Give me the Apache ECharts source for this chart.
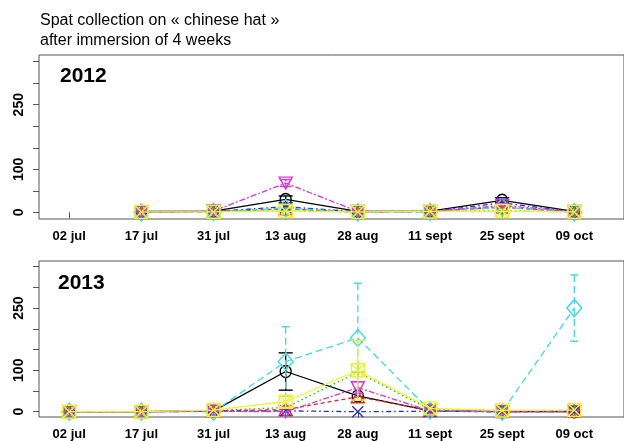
<!DOCTYPE html>
<html>
<head>
<meta charset="utf-8">
<script src="https://cdn.jsdelivr.net/npm/echarts@6/dist/echarts.min.js"></script>
<style>html,body{margin:0;padding:0;background:#fff}#c{width:624px;height:441px}</style>
</head>
<body>
<div id="c"></div>
<script>
// ---- data ----
const dates = ['02 jul', '17 jul', '31 jul', '13 aug', '28 aug', '11 sept', '25 sept', '09 oct'];
const yTicks = [0, 50, 100, 150, 200, 250, 300, 350];
const yLabels = [0, 100, 250];
const seriesNames = ['S1', 'S2', 'S3', 'S4', 'S5', 'S6', 'S7'];

// 2012 (no sampling on 02 jul)
const s1_2012 = [null, 2, 3, 30, 2, 3, 28, 2];
const s2_2012 = [null, 0, 2, 8, 0, 2, 12, 1];
const s3_2012 = [null, 2, 2, 3, 2, 2, 4, 1];
const s4_2012 = [null, 0, 2, 13, 1, 2, 22, 1];
const s5_2012 = [null, 0, 1, 10, 0, 1, 12, 0];
const s6_2012 = [null, 0, 3, 68, 2, 2, 16, 2];
const s7_2012 = [null, 1, 1, 3, 1, 2, 3, 1];
const e1_2012 = [null, 0, 0, 8, 0, 0, 6, 0];
const e6_2012 = [null, 0, 0, 8, 0, 0, 4, 0];

// 2013
const s1_2013 = [0, 0, 2, 97, 38, 2, 0, 0];
const s2_2013 = [0, 0, 2, 5, 36, 3, 0, 2];
const s3_2013 = [0, 0, 3, 10, 95, 5, 2, 3];
const s4_2013 = [0, 0, 1, 2, 0, 1, 0, 0];
const s5_2013 = [0, 0, 0, 121, 178, 3, 0, 250];
const s6_2013 = [0, 0, 1, 0, 58, 2, 0, 0];
const s7_2013 = [0, 0, 4, 24, 100, 8, 3, 4];
const e1_2013 = [0, 0, 0, 45, 0, 0, 0, 0];
const e5_2013 = [0, 0, 0, 84, 132, 0, 0, 80];
const e6_2013 = [0, 0, 0, 0, 14, 0, 0, 0];
const e7_2013 = [0, 0, 0, 14, 72, 0, 0, 0];

// ---- styles ----
const colors = ['#000000', '#E02828', '#22B822', '#2233CC', '#3ADCE2', '#D638D6', '#F4F030'];
const dashes = ['solid', [4, 3], [1.5, 3], [1.5, 3, 5, 3], [7, 4], [2, 2, 6, 2], 'solid'];
const symbols = [
  'path://M0,5A5,5,0,1,1,10,5A5,5,0,1,1,0,5Z',
  'path://M5,0L10,9L0,9Z',
  'path://M5,0L5,10M0,5L10,5',
  'path://M0,0L10,10M10,0L0,10',
  'path://M5,0L10,5L5,10L0,5Z',
  'path://M0,0L10,0L5,9Z',
  'path://M0,0L10,0L10,10L0,10ZM0,0L10,10M10,0L0,10'
];
const symSizes = [[11, 12], [13, 12], [12, 13], [11, 11], [15, 17], [13, 12], [13, 13]];
const capW = [14, 10, 10, 10, 8, 12, 14];

const data2012 = [s1_2012, s2_2012, s3_2012, s4_2012, s5_2012, s6_2012, s7_2012];
const data2013 = [s1_2013, s2_2013, s3_2013, s4_2013, s5_2013, s6_2013, s7_2013];
const err2012 = {0: e1_2012, 5: e6_2012};
const err2013 = {0: e1_2013, 4: e5_2013, 5: e6_2013, 6: e7_2013};

function pts(arr) { return arr.map((v, i) => [i + 1, v]); }

function xAxis(gi) {
  return {
    type: 'value', gridIndex: gi, min: 0.581, max: 8.689,
    splitLine: {show: false},
    axisLine: {show: false},
    axisTick: {show: true, length: 6, lineStyle: {color: '#555'}, customValues: [1, 2, 3, 4, 5, 6, 7, 8]},
    axisLabel: {
      customValues: [1, 2, 3, 4, 5, 6, 7, 8],
      formatter: v => dates[Math.round(v) - 1],
      fontFamily: 'Liberation Sans', fontWeight: 'bold', fontSize: 13, color: '#000', margin: 11
    }
  };
}
function yAxis(gi, mn, mx) {
  return {
    type: 'value', gridIndex: gi, min: mn, max: mx,
    splitLine: {show: false},
    axisLine: {show: false},
    axisTick: {show: true, length: 6, lineStyle: {color: '#555'}, customValues: yTicks},
    axisLabel: {
      customValues: yLabels, rotate: 90,
      fontFamily: 'Liberation Sans', fontWeight: 'bold', fontSize: 14, color: '#000', margin: 13
    }
  };
}

const series = [];
function addPanel(gi, data, errs) {
  data.forEach((arr, k) => {
    series.push({
      type: 'line', name: seriesNames[k], xAxisIndex: gi, yAxisIndex: gi,
      data: pts(arr), connectNulls: false, animation: false,
      symbol: symbols[k], symbolSize: symSizes[k],
      itemStyle: {color: 'rgba(0,0,0,0)', borderColor: colors[k], borderWidth: 1.4},
      lineStyle: {color: colors[k], width: 1.3, type: dashes[k]},
      z: 2 + k
    });
    if (errs[k]) {
      const ed = arr.map((v, i) => [i + 1, v, errs[k][i]]).filter(d => d[1] != null && d[2] > 0);
      series.push({
        type: 'custom', xAxisIndex: gi, yAxisIndex: gi, animation: false, z: 2 + k,
        data: ed,
        renderItem: (params, api) => {
          const x = api.value(0), y = api.value(1), e = api.value(2);
          const top = api.coord([x, y + e]);
          const bot = api.coord([x, y - e]);
          const w = capW[k] / 2;
          const st = {stroke: colors[k], lineWidth: 1.3, lineDash: dashes[k] === 'solid' ? null : dashes[k]};
          const st2 = {stroke: colors[k], lineWidth: 1.4};
          return {
            type: 'group', children: [
              {type: 'line', shape: {x1: top[0], y1: top[1], x2: bot[0], y2: bot[1]}, style: st},
              {type: 'line', shape: {x1: top[0] - w, y1: top[1], x2: top[0] + w, y2: top[1]}, style: st2},
              {type: 'line', shape: {x1: bot[0] - w, y1: bot[1], x2: bot[0] + w, y2: bot[1]}, style: st2}
            ]
          };
        }
      });
    }
  });
}
addPanel(0, data2012, err2012);
addPanel(1, data2013, err2013);

const chart = echarts.init(document.getElementById('c'), null, {renderer: 'canvas'});
chart.setOption({
  backgroundColor: '#fff',
  animation: false,
  title: {
    text: 'Spat collection on « chinese hat »\nafter immersion of 4 weeks',
    left: 40, top: 11, padding: 0,
    textStyle: {fontFamily: 'Liberation Sans', fontSize: 16, fontWeight: 'normal', color: '#000', lineHeight: 20}
  },
  graphic: [
    {type: 'text', left: 60, top: 66, style: {text: '2012', font: 'bold 21px "Liberation Sans"', fill: '#000'}},
    {type: 'text', left: 58, top: 273, style: {text: '2013', font: 'bold 21px "Liberation Sans"', fill: '#000'}}
  ],
  grid: [
    {left: 39, top: 55, width: 600, height: 164, show: true, borderColor: '#555', borderWidth: 1, backgroundColor: 'transparent'},
    {left: 39, top: 261, width: 600, height: 156, show: true, borderColor: '#555', borderWidth: 1, backgroundColor: 'transparent'}
  ],
  xAxis: [xAxis(0), xAxis(1)],
  yAxis: [yAxis(0, -15.5, 365.5), yAxis(1, -12.8, 363.7)],
  series: series
});
</script>
</body>
</html>
